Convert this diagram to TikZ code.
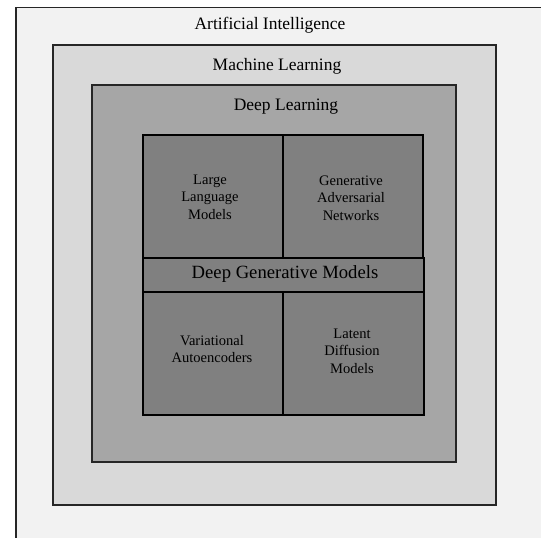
\documentclass[tikz,border=0pt]{standalone}
\usepackage{fontspec}
\setmainfont{Liberation Serif}
\definecolor{aifill}{HTML}{F2F2F2}
\definecolor{mlfill}{HTML}{D9D9D9}
\definecolor{dlfill}{HTML}{A6A6A6}
\definecolor{cellfill}{HTML}{808080}
\definecolor{edge}{HTML}{262626}
\begin{document}
\begin{tikzpicture}[x=0.75pt,y=-0.75pt,
  layer/.style={draw=edge,line width=1.2pt,inner sep=0pt},
  cell/.style={draw=black,line width=1.2pt,fill=cellfill,inner sep=0pt},
  big/.style={font=\fontsize{13.1}{15}\selectfont,text=black},
  small/.style={font=\fontsize{10.9}{13.1}\selectfont,align=center,text=black},
  mid/.style={font=\fontsize{14}{16}\selectfont,text=black}]
\useasboundingbox (0,0) rectangle (541,537);
\clip (0,0) rectangle (541,537);
\fill[white] (0,0) rectangle (541,537);
% Artificial Intelligence
\node[layer,fill=aifill,anchor=north west,minimum width=540*0.75pt,minimum height=540*0.75pt] (ai) at (15,6.5) {};
\node[big] (ait) at (270,25) {Artificial Intelligence};
% Machine Learning
\node[layer,fill=mlfill,anchor=north west,minimum width=443*0.75pt,minimum height=460*0.75pt] (ml) at (52,44) {};
\node[big] (mlt) at (277,66) {Machine Learning};
% Deep Learning
\node[layer,fill=dlfill,anchor=north west,minimum width=364*0.75pt,minimum height=377*0.75pt] (dl) at (91,84) {};
\node[big] (dlt) at (286,107) {Deep Learning};
% Deep generative models grid
\node[cell,anchor=north west,minimum width=140*0.75pt,minimum height=123*0.75pt] (llm) at (142,134) {};
\node[cell,anchor=north west,minimum width=140*0.75pt,minimum height=123*0.75pt] (gan) at (282,134) {};
\node[cell,anchor=north west,minimum width=281*0.75pt,minimum height=34*0.75pt] (dgm) at (142,257) {};
\node[cell,anchor=north west,minimum width=140*0.75pt,minimum height=123*0.75pt] (vae) at (142,291) {};
\node[cell,anchor=north west,minimum width=141*0.75pt,minimum height=123*0.75pt] (ldm) at (282,291) {};
\node[small] (llmt) at (210,197) {Large\\Language\\Models};
\node[small] (gant) at (351,198) {Generative\\Adversarial\\Networks};
\node[mid] (dgmt) at (285,274) {Deep Generative Models};
\node[small] (vaet) at (212,349) {Variational\\Autoencoders};
\node[small] (ldmt) at (352,351) {Latent\\Diffusion\\Models};
\end{tikzpicture}
\end{document}
